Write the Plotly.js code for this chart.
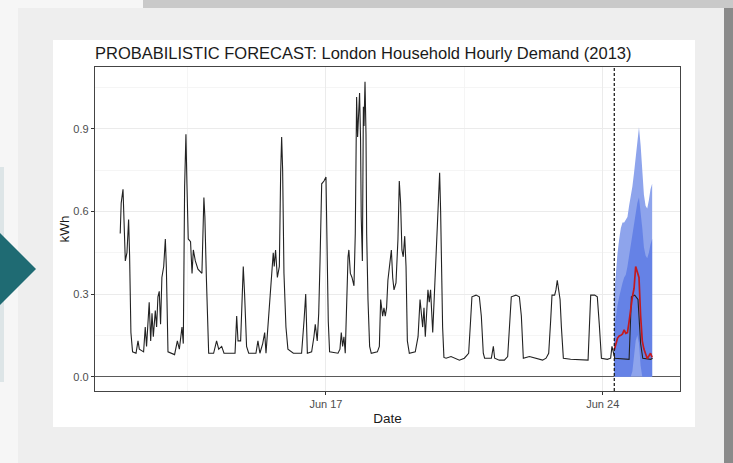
<!DOCTYPE html>
<html><head><meta charset="utf-8">
<script src="https://cdn.plot.ly/plotly-3.0.1.min.js"></script>
<style>html,body{margin:0;padding:0;background:#f6f6f6;overflow:hidden}#chart{width:733px;height:463px;}</style>
</head><body><div id="chart"></div>
<script>
// Hours since 2013-06-11 00:00 (hourly household demand, kWh)
const actualHour = [
 19.1,19.7,20.8,21.4,22.2,23.2,24.2,24.8,25.6,26.6,
 28.7,29.9,30.7,33.3,34.3,35.1,36.7,37.6,38.4,39.2,
 40.4,41.2,42.0,42.8,43.6,44.4,45.5,46.5,47.1,48.1,
 52.1,53.8,55.0,56.6,57.4,58.2,59.0,59.6,60.4,61.8,
 62.7,63.5,64.7,66.3,68.7,69.9,70.5,71.4,72.8,75.8,
 77.6,78.9,80.7,82.1,88.8,89.8,90.6,92.2,93.8,94.6,
 95.8,97.1,101.5,102.7,103.9,105.6,106.8,107.6,110.0,111.2,
 112.0,112.6,113.4,114.5,115.7,116.5,117.1,117.7,118.5,119.7,
 120.9,124.2,129.2,130.7,131.7,132.7,135.3,136.7,137.5,138.7,
 139.6,140.4,141.4,142.8,144.0,144.8,145.4,146.2,151.3,152.5,
 153.3,154.1,154.9,155.7,156.5,157.4,157.9,158.8,159.8,161.0,
 161.8,162.6,163.2,163.8,164.4,165.0,165.4,166.1,166.7,167.1,
 167.7,168.3,168.7,169.5,170.5,171.5,175.2,176.4,177.2,178.4,
 179.2,180.0,180.8,181.6,182.9,183.7,184.5,185.3,186.5,187.7,
 188.5,189.3,190.1,190.9,191.8,192.6,193.4,194.6,198.2,199.9,
 201.1,201.9,202.7,203.5,204.3,205.1,205.9,206.7,207.5,208.8,
 209.6,210.8,211.6,212.4,213.0,213.6,214.2,214.8,215.6,216.9,
 219.9,221.9,225.0,228.0,230.6,231.8,232.6,235.1,237.1,238.3,
 239.5,240.3,244.4,245.6,246.4,249.2,252.3,254.3,255.7,256.5,
 259.3,261.4,262.6,263.8,267.5,271.5,275.5,277.6,279.2,280.4,
 281.2,282.8,283.6,284.4,285.3,286.1,286.9,288.1,292.5,298.6,
 303.1,303.9,304.7,307.1,308.7,309.9,311.2,314.8,316.8,317.6,
 318.5,319.3,328.0,328.6,329.4,331.4,333.4,335.0,336.3,341.1,
 342.3
];
const actualKWh = [
 0.52,0.63,0.68,0.58,0.42,0.45,0.57,0.44,0.16,0.09,
 0.085,0.13,0.10,0.09,0.18,0.11,0.27,0.13,0.23,0.145,
 0.24,0.18,0.29,0.31,0.19,0.36,0.40,0.50,0.40,0.09,
 0.08,0.13,0.10,0.18,0.12,0.69,0.88,0.70,0.50,0.49,
 0.375,0.46,0.42,0.39,0.375,0.65,0.58,0.36,0.085,0.085,
 0.13,0.10,0.11,0.085,0.085,0.22,0.13,0.13,0.40,0.30,
 0.11,0.085,0.085,0.13,0.085,0.12,0.16,0.085,0.28,0.375,
 0.45,0.40,0.46,0.36,0.40,0.74,0.87,0.75,0.375,0.18,
 0.10,0.085,0.085,0.205,0.30,0.085,0.09,0.145,0.19,0.13,
 0.23,0.42,0.70,0.71,0.725,0.42,0.20,0.09,0.085,0.10,
 0.16,0.11,0.145,0.085,0.30,0.435,0.46,0.375,0.36,0.33,
 0.52,1.015,0.87,0.98,1.03,0.86,0.58,0.42,0.98,0.91,
 1.07,0.88,0.52,0.28,0.11,0.085,0.09,0.11,0.28,0.22,
 0.25,0.22,0.25,0.35,0.42,0.46,0.36,0.315,0.34,0.50,
 0.71,0.63,0.46,0.435,0.51,0.40,0.13,0.085,0.09,0.145,
 0.28,0.23,0.18,0.25,0.145,0.23,0.315,0.27,0.315,0.16,
 0.28,0.40,0.55,0.70,0.74,0.60,0.40,0.18,0.07,0.067,
 0.073,0.067,0.06,0.067,0.085,0.205,0.29,0.296,0.29,0.22,
 0.085,0.067,0.067,0.11,0.067,0.06,0.06,0.073,0.205,0.29,
 0.296,0.29,0.22,0.067,0.073,0.067,0.06,0.067,0.085,0.205,
 0.296,0.296,0.315,0.35,0.30,0.28,0.18,0.067,0.063,0.06,
 0.06,0.18,0.296,0.296,0.29,0.19,0.067,0.063,0.067,0.11,
 0.085,0.067,0.063,0.18,0.29,0.296,0.28,0.12,0.067,0.063,
 0.067
];
// 24-hour probabilistic forecast
const bandHour  = [319,320,321,322,323,324,325,326,327,328,329,330,331,332,333,334,335,336,337,338,339,340,341,342];
const medianKWh = [0.097,0.125,0.14,0.148,0.15,0.155,0.17,0.157,0.16,0.20,0.25,0.29,0.32,0.40,0.38,0.36,0.22,0.13,0.10,0.08,0.066,0.075,0.085,0.07];
const lo95 = [0,0,0,0,0,0,0,0,0,0,0,0,0,0,0,0,0,0,0,0,0,0,0,0];
const hi95 = [0.30,0.38,0.45,0.50,0.54,0.56,0.56,0.57,0.58,0.62,0.65,0.69,0.74,0.80,0.87,0.905,0.84,0.75,0.66,0.62,0.61,0.64,0.68,0.70];
const lo80 = [0,0,0,0,0,0,0,0,0,0,0,0.02,0.08,0.13,0.15,0.12,0.04,0,0,0,0,0,0,0];
const hi80 = [0.17,0.22,0.26,0.29,0.32,0.34,0.36,0.37,0.40,0.44,0.47,0.51,0.55,0.60,0.63,0.65,0.60,0.54,0.47,0.44,0.43,0.45,0.48,0.50];
const forecastStartHour = [319];

const xTickVals = ['2013-06-17', '2013-06-24'];
const xTickText = ['Jun 17', 'Jun 24'];
const xMinorVals = ['2013-06-13 12:00', '2013-06-20 12:00'];
const yTickVals = [0, 0.3, 0.6, 0.9];
const yTickText = ['0.0', '0.3', '0.6', '0.9'];
const yMinorVals = [0.15, 0.45, 0.75, 1.05];
const xRangeHour = [3.8, 358.9];
const yRange = [-0.052, 1.124];

const BASE = Date.UTC(2013, 5, 11);
function toDate(h) {
  const d = new Date(BASE + Math.round(h * 3600) * 1000);
  const p = n => String(n).padStart(2, '0');
  return d.getUTCFullYear() + '-' + p(d.getUTCMonth() + 1) + '-' + p(d.getUTCDate()) + ' ' +
    p(d.getUTCHours()) + ':' + p(d.getUTCMinutes()) + ':' + p(d.getUTCSeconds());
}
const W = 733, H = 463, ML = 95, MR = 53, MT = 67, MB = 72;
const PW = W - ML - MR, PH = H - MT - MB;
const px = x => (x - ML) / PW;
const py = y => (H - MB - y) / PH;

const bx = bandHour.map(toDate);
const LIGHT = '#8ea4ec', DARK = '#6582e6';
const traces = [
  {x: bx, y: lo95, type: 'scatter', mode: 'lines', line: {width: 0}, hoverinfo: 'skip'},
  {x: bx, y: hi95, type: 'scatter', mode: 'lines', line: {width: 0}, fill: 'tonexty', fillcolor: LIGHT, hoverinfo: 'skip'},
  {x: bx, y: lo80, type: 'scatter', mode: 'lines', line: {width: 0}, hoverinfo: 'skip'},
  {x: bx, y: hi80, type: 'scatter', mode: 'lines', line: {width: 0}, fill: 'tonexty', fillcolor: DARK, hoverinfo: 'skip'},
  {x: actualHour.map(toDate), y: actualKWh, type: 'scatter', mode: 'lines', line: {color: '#222222', width: 1.1}},
  {x: bx, y: medianKWh, type: 'scatter', mode: 'lines', line: {color: '#c41a1e', width: 1.7}}
];

const layout = {
  width: W, height: H,
  margin: {l: ML, r: MR, t: MT, b: MB, pad: 0},
  paper_bgcolor: '#f6f6f6', plot_bgcolor: '#ffffff',
  showlegend: false,
  font: {family: '"Liberation Sans", Arial, sans-serif', color: '#4d4d4d'},
  title: {text: 'PROBABILISTIC FORECAST: London Household Hourly Demand (2013)',
    font: {size: 16.5, color: '#1a1a1a'}, x: 0, xref: 'paper', xanchor: 'left',
    y: 1 - 53.5 / H, yref: 'container', yanchor: 'middle'},
  xaxis: {type: 'date', range: xRangeHour.map(toDate), tickmode: 'array', tickvals: xTickVals, ticktext: xTickText,
    ticks: 'outside', ticklen: 3, tickwidth: 1, tickcolor: '#333', tickfont: {size: 11, color: '#4d4d4d'},
    showgrid: true, gridcolor: '#ebebeb', gridwidth: 1,
    minor: {tickmode: 'array', tickvals: xMinorVals, showgrid: true, gridcolor: '#f3f3f3', gridwidth: 0.8, ticks: ''},
    showline: true, mirror: true, linecolor: '#444', linewidth: 1.2, zeroline: false, automargin: false,
    title: {text: 'Date', font: {size: 13.5, color: '#1a1a1a'}, standoff: 4}},
  yaxis: {range: yRange, tickmode: 'array', tickvals: yTickVals, ticktext: yTickText,
    ticks: 'outside', ticklen: 3, tickwidth: 1, tickcolor: '#333', tickfont: {size: 11, color: '#4d4d4d'},
    showgrid: true, gridcolor: '#ebebeb', gridwidth: 1,
    minor: {tickmode: 'array', tickvals: yMinorVals, showgrid: true, gridcolor: '#f3f3f3', gridwidth: 0.8, ticks: ''},
    showline: true, mirror: true, linecolor: '#444', linewidth: 1.2,
    zeroline: true, zerolinecolor: '#5a5a5a', zerolinewidth: 1.2, automargin: false,
    title: {text: 'kWh', font: {size: 13.5, color: '#1a1a1a'}, standoff: 0}},
  shapes: [
    {type: 'rect', xref: 'paper', yref: 'paper', x0: px(18), x1: px(724), y0: py(463), y1: py(8), fillcolor: '#eeeeee', line: {width: 0}, layer: 'below'},
    {type: 'rect', xref: 'paper', yref: 'paper', x0: px(143), x1: px(733), y0: py(8), y1: py(0), fillcolor: '#c9c9c9', line: {width: 0}, layer: 'below'},
    {type: 'rect', xref: 'paper', yref: 'paper', x0: px(724), x1: px(733), y0: py(463), y1: py(8), fillcolor: '#8a8a8a', line: {width: 0}, layer: 'below'},
    {type: 'rect', xref: 'paper', yref: 'paper', x0: px(0), x1: px(4), y0: py(382), y1: py(167), fillcolor: '#dde5e7', line: {width: 0}, layer: 'below'},
    {type: 'path', xref: 'paper', yref: 'paper', path: 'M ' + px(0) + ' ' + py(233) + ' L ' + px(36) + ' ' + py(269) + ' L ' + px(0) + ' ' + py(305) + ' Z', fillcolor: '#1f6b73', line: {width: 0}, layer: 'below'},
    {type: 'rect', xref: 'paper', yref: 'paper', x0: px(53), x1: px(695), y0: py(427), y1: py(40), fillcolor: '#ffffff', line: {width: 0}, layer: 'below'},
    {type: 'line', xref: 'x', yref: 'paper', x0: toDate(forecastStartHour[0]), x1: toDate(forecastStartHour[0]), y0: 0, y1: 1, line: {color: '#111', width: 1.2, dash: '3px,2px'}, layer: 'above'}
  ]
};
Plotly.newPlot('chart', traces, layout, {staticPlot: true, displayModeBar: false});
</script>
</body></html>
